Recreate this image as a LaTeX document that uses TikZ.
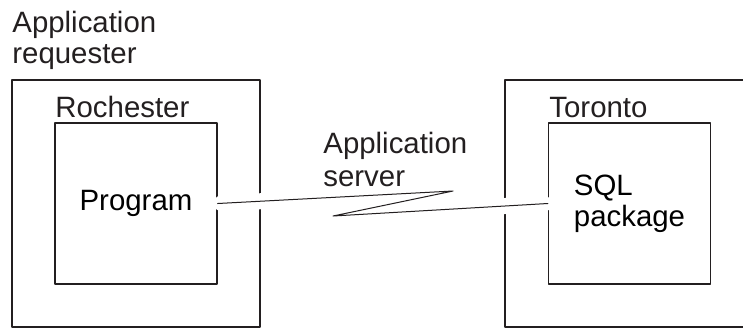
\documentclass[tikz,border=0pt]{standalone}
\usepackage{fontspec}
\setmainfont{Liberation Sans}
\usetikzlibrary{positioning}
\definecolor{ink}{HTML}{231F20}
\begin{document}
\begin{tikzpicture}[x=0.5pt,y=-0.5pt,line join=round,line cap=round,
	font=\fontsize{14.7}{15.5}\selectfont,
	site/.style={draw=ink,line width=0.55pt},
	box/.style={draw=ink,line width=0.65pt,minimum width=81pt,minimum height=80.5pt,align=left,inner sep=0pt},
	lbl/.style={inner sep=0pt,text=ink,align=left},
	link/.style={draw=ink,line width=0.5pt,preaction={draw=white,line width=8pt,shorten <=2pt,shorten >=2pt}}]
	\useasboundingbox (0,0) rectangle (743,328);
	% outer frames
	\draw[site] (12,80) rectangle (260,327);
	\draw[site] (770,80) -- (505,80) -- (505,327) -- (770,327);
	% systems
	\node[box] (prog) at (136,203.5) {Program};
	\node[box] (pkg) at (629.5,203.5) {SQL\\package};
	\coordinate (zA) at (453,191);
	\coordinate (zB) at (333,216);
	\draw[link] (prog.east) -- (zA) -- (zB) -- (pkg.west);
	% labels
	\node[lbl,anchor=base west] (req) at (12,63) {Application\\requester};
	\node[lbl,anchor=base west] (roch) at (55,117) {Rochester};
	\node[lbl,anchor=base west] (tor) at (549,117) {Toronto};
	\node[lbl,anchor=base west,font=\fontsize{14.7}{16.5}\selectfont] (srv) at (323,186) {Application\\server};
\end{tikzpicture}
\end{document}
